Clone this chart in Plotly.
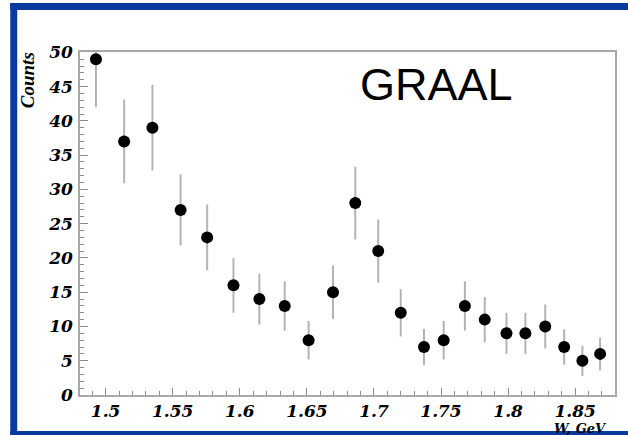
import plotly.graph_objects as go

# Data
w_gev = [1.4928, 1.5138, 1.5349, 1.5559, 1.5757, 1.5953, 1.6146, 1.6335, 1.6513,
         1.6695, 1.6861, 1.7032, 1.7200, 1.7373, 1.7520, 1.7678, 1.7826, 1.7988,
         1.8129, 1.8277, 1.8418, 1.8554, 1.8686]
counts = [49, 37, 39, 27, 23, 16, 14, 13, 8, 15, 28, 21, 12, 7, 8, 13, 11, 9, 9, 10, 7, 5, 6]
errors = [7.0, 6.1, 6.25, 5.2, 4.8, 4.0, 3.7, 3.6, 2.8, 3.9, 5.3, 4.6, 3.45, 2.65, 2.8,
          3.6, 3.3, 3.0, 3.0, 3.2, 2.6, 2.2, 2.4]
x_tick_vals = [1.5, 1.55, 1.6, 1.65, 1.7, 1.75, 1.8, 1.85]
x_tick_text = ["1.5", "1.55", "1.6", "1.65", "1.7", "1.75", "1.8", "1.85"]
y_tick_vals = [0, 5, 10, 15, 20, 25, 30, 35, 40, 45, 50]

W, H = 628, 435
L, R, T, B = 80, 11, 52, 40
PW, PH = W - L - R, H - T - B


def px(xp):
    return (xp - L) / PW


def py(yp):
    return (H - B - yp) / PH


tick_font = dict(family="DejaVu Serif", size=17, color="black", weight="bold", style="italic")

fig = go.Figure()
fig.add_trace(go.Scatter(
    x=w_gev, y=counts, mode="markers",
    marker=dict(symbol="circle", size=12, color="black"),
    error_y=dict(type="data", array=errors, visible=True, color="#b3b3b3",
                 thickness=2, width=0),
    showlegend=False,
))

axis_common = dict(showline=True, linecolor="#a8a8a8", linewidth=1.5, mirror=True,
                   showgrid=False, zeroline=False, ticks="inside",
                   tickcolor="#8a8a8a", tickwidth=1, tickfont=tick_font)

fig.update_xaxes(range=[1.4809, 1.8797], tickvals=x_tick_vals, ticktext=x_tick_text,
                 ticklen=7, ticklabelstandoff=0,
                 minor=dict(dtick=0.01, tick0=1.5, ticks="inside", ticklen=4,
                            tickcolor="#8a8a8a"),
                 **axis_common)
fig.update_yaxes(range=[0, 50.05], tickvals=y_tick_vals, ticklen=8,
                 minor=dict(dtick=1, ticks="inside", ticklen=4, tickcolor="#8a8a8a"),
                 ticklabelstandoff=2, **axis_common)

blue = "#0a3aa0"
shapes = [
    dict(type="rect", xref="paper", yref="paper", x0=px(10), x1=px(17), y0=py(3), y1=py(445),
         fillcolor=blue, line=dict(width=0), layer="above"),
    dict(type="rect", xref="paper", yref="paper", x0=px(10), x1=px(640), y0=py(3), y1=py(10),
         fillcolor=blue, line=dict(width=0), layer="above"),
    dict(type="rect", xref="paper", yref="paper", x0=px(10), x1=px(640), y0=py(431), y1=py(445),
         fillcolor=blue, line=dict(width=0), layer="above"),
]

annotations = [
    dict(text="GRAAL", xref="paper", yref="paper", x=px(438), y=py(84),
         xanchor="center", yanchor="middle", showarrow=False,
         font=dict(family="Liberation Sans", size=45, color="black")),
    dict(text="Counts", xref="paper", yref="paper", x=px(27), y=py(50),
         xanchor="center", yanchor="top", textangle=-90, showarrow=False,
         font=dict(family="Liberation Serif", size=19, color="black", weight="bold", style="italic")),
    dict(text="W, GeV", xref="paper", yref="paper", x=px(610), y=py(420),
         xanchor="right", yanchor="top", showarrow=False, borderpad=0,
         font=dict(family="DejaVu Serif", size=13, color="black", weight="bold", style="italic")),
]

fig.update_layout(
    width=W, height=H, margin=dict(l=L, r=R, t=T, b=B, pad=0),
    paper_bgcolor="white", plot_bgcolor="white",
    shapes=shapes, annotations=annotations,
)

fig.write_html("out.html")
